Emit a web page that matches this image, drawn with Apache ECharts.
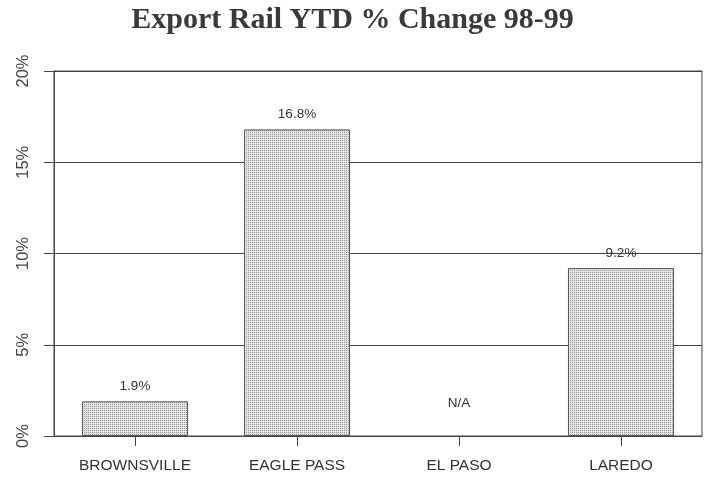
<!DOCTYPE html>
<html>
<head>
<meta charset="utf-8">
<script src="https://cdn.jsdelivr.net/npm/echarts@6/dist/echarts.min.js"></script>
<style>
html,body{margin:0;padding:0;background:#fff;}
#chart{width:705px;height:477px;}
</style>
</head>
<body>
<div id="chart"></div>
<script>
const categories = ['BROWNSVILLE', 'EAGLE PASS', 'EL PASO', 'LAREDO'];
const values = [1.9, 16.8, null, 9.2];
const valueLabels = ['1.9%', '16.8%', 'N/A', '9.2%'];
const yTicks = [0, 5, 10, 15, 20];

const cv = document.createElement('canvas');
cv.width = 2; cv.height = 2;
const cx = cv.getContext('2d');
cx.fillStyle = '#e2e2e2'; cx.fillRect(0, 0, 2, 2);
cx.fillStyle = '#9a9a9a'; cx.fillRect(0, 0, 1, 1);

const chart = echarts.init(document.getElementById('chart'), null, {renderer: 'canvas'});
const data = values.map((v, i) => {
  if (v === null) {
    return {
      value: 0,
      itemStyle: {borderWidth: 0, color: 'transparent'},
      label: {formatter: valueLabels[i], offset: [0, -18]}
    };
  }
  return {value: v, label: {formatter: valueLabels[i]}};
});

chart.setOption({
  animation: false,
  backgroundColor: '#ffffff',
  title: {
    text: 'Export Rail YTD % Change 98-99',
    left: 'center',
    top: 0,
    textStyle: {fontFamily: '"Liberation Serif", "Times New Roman", serif', fontWeight: 'bold', fontSize: 30, color: '#3a3a3a'}
  },
  grid: {left: 54, right: 3, top: 71, bottom: 41, show: true, borderColor: '#444', borderWidth: 1},
  xAxis: {
    type: 'category',
    data: categories,
    axisLine: {lineStyle: {color: '#444', width: 1}},
    axisTick: {show: true, alignWithLabel: true, length: 10, lineStyle: {color: '#444'}},
    axisLabel: {color: '#333', fontFamily: '"Liberation Sans", Arial, sans-serif', fontSize: 15.5, margin: 22}
  },
  yAxis: {
    type: 'value',
    min: yTicks[0],
    max: yTicks[yTicks.length - 1],
    interval: 5,
    axisLine: {show: true, lineStyle: {color: '#444', width: 1}},
    axisTick: {show: true, length: 10, lineStyle: {color: '#444'}},
    splitLine: {show: true, lineStyle: {color: '#444', width: 1}},
    axisLabel: {
      rotate: 90, color: '#444', fontFamily: '"Liberation Sans", Arial, sans-serif', fontSize: 16.5, margin: 22,
      formatter: v => v + '%'
    }
  },
  series: [{
    type: 'bar',
    data: data,
    barCategoryGap: '34.5%',
    itemStyle: {color: {image: cv, repeat: 'repeat'}, borderColor: '#555', borderWidth: 1},
    label: {show: true, position: 'top', distance: 8, color: '#333', fontFamily: '"Liberation Sans", Arial, sans-serif', fontSize: 13.5}
  }]
});
</script>
</body>
</html>
